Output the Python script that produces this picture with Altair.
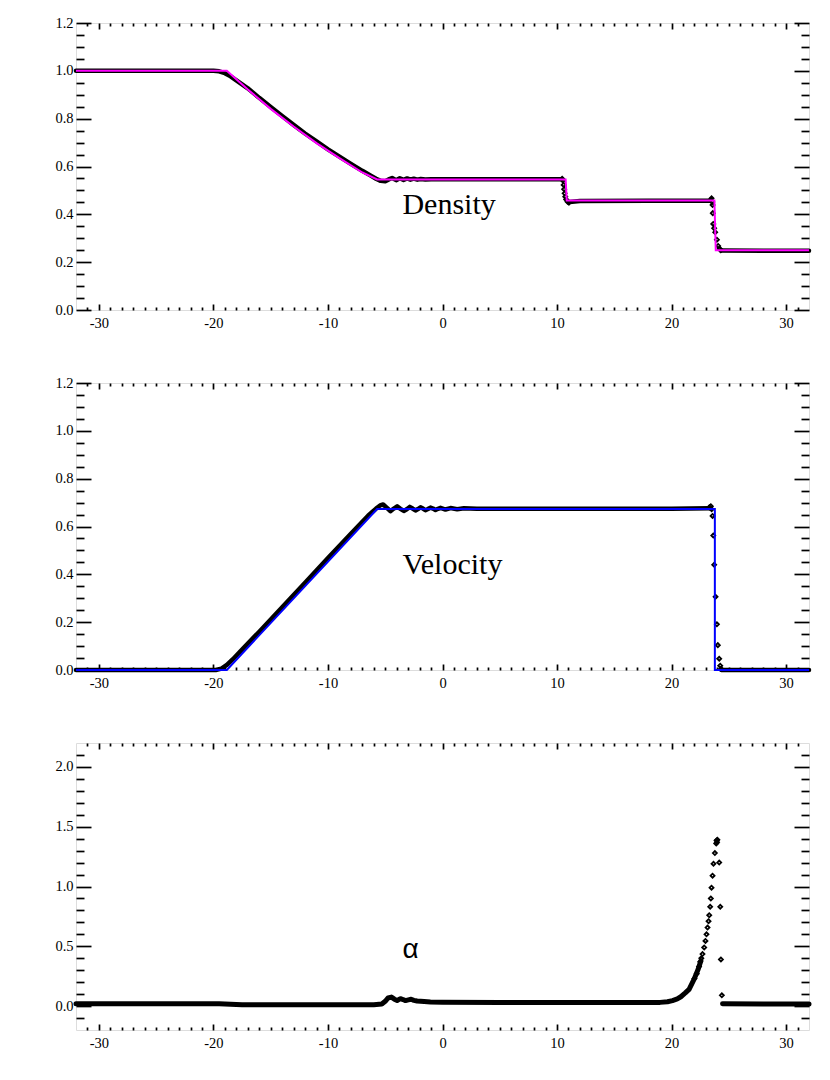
import altair as alt
import pandas as pd

# ---------------- data ----------------
x_major = [-30, -20, -10, 0, 10, 20, 30]
x_minor = [v for v in range(-31, 32) if v % 10 != 0]

# Density panel
dens_exact_x = [-32, -18.83, -17.0, -15.0, -13.0, -11.0, -9.0, -7.0, -5.71, 10.75, 10.85, 23.74, 23.86, 32]
dens_exact_y = [1.0, 1.0, 0.922, 0.841, 0.767, 0.698, 0.635, 0.575, 0.546, 0.546, 0.458, 0.458, 0.25, 0.25]

dens_band_x = [-32, -20.0, -19.5, -19.0, -18.5, -18.0, -17.0, -16.0, -15.0, -14.0, -13.0, -12.0, -11.0,
               -10.0, -9.0, -8.0, -7.0, -6.3, -5.8, -5.4, -5.0, -4.7, -4.4, -4.05, -3.73, -3.4, -3.09,
               -2.8, -2.51, -2.2, -1.9, -1.5, -1.0, 0.0, 5.0, 10.4,
               11.1, 12.0, 18.0, 23.3, 23.45,
               24.3, 28.0, 32]
dens_band_y = [1.0, 1.0, 0.998, 0.99, 0.977, 0.96, 0.927, 0.887, 0.849, 0.811, 0.774, 0.738, 0.705,
               0.672, 0.641, 0.611, 0.582, 0.563, 0.549, 0.54, 0.538, 0.546, 0.552, 0.543, 0.551, 0.544, 0.55,
               0.545, 0.549, 0.545, 0.548, 0.546, 0.547, 0.547, 0.547, 0.547,
               0.452, 0.456, 0.457, 0.457, 0.463,
               0.249, 0.248, 0.248]
dens_band_seg = [1] * 36 + [2] * 5 + [3] * 3

dens_pts_x = [10.45, 10.52, 10.58, 10.62, 10.66, 10.72, 10.8, 10.92, 11.04,
              23.49, 23.55, 23.58, 23.6, 23.64, 23.72, 23.81, 23.96, 24.07, 24.2, 24.3]
dens_pts_y = [0.549, 0.541, 0.523, 0.505, 0.488, 0.474, 0.462, 0.453, 0.449,
              0.467, 0.452, 0.439, 0.405, 0.36, 0.342, 0.325, 0.294, 0.268, 0.256, 0.25]

# Velocity panel
vel_exact_x = [-32, -18.83, -5.71, 23.78, 23.78, 32]
vel_exact_y = [0.0, 0.0, 0.673, 0.673, 0.0, 0.0]

vel_band_x = [-32, -19.8, -19.3, -18.8, -18.3, -17.5, -16.0, -14.0, -12.0, -10.0, -8.0, -6.5, -5.8,
              -5.45, -5.18, -4.85, -4.55, -4.25, -3.96, -3.67, -3.38, -3.12, -2.86, -2.61, -2.36,
              -2.14, -1.92, -1.7, -1.49, -1.27, -1.05, -0.83, -0.61, -0.39, -0.17, 0.26, 0.7, 1.28,
              1.87, 3.0, 10.0, 20.0, 23.3,
              24.35, 32]
vel_band_y = [0.0, 0.0, 0.006, 0.022, 0.045, 0.085, 0.16, 0.262, 0.365, 0.468, 0.57, 0.645, 0.675,
              0.688, 0.692, 0.678, 0.664, 0.675, 0.684, 0.674, 0.665, 0.672, 0.682, 0.675, 0.667,
              0.673, 0.68, 0.675, 0.668, 0.673, 0.679, 0.675, 0.669, 0.674, 0.678, 0.671, 0.677, 0.672,
              0.676, 0.674, 0.674, 0.674, 0.676,
              0.0, 0.0]
vel_band_seg = [1] * 43 + [2] * 2

vel_pts_x = [23.3, 23.43, 23.5, 23.58, 23.64, 23.72, 23.84, 23.96, 24.04, 24.16, 24.25, 24.32]
vel_pts_y = [0.68, 0.685, 0.672, 0.644, 0.562, 0.44, 0.306, 0.191, 0.104, 0.047, 0.018, 0.005]

# Alpha panel
alpha_band_x = [-32, -19.5, -18.5, -17.5, -6.0, -5.3, -5.0, -4.75, -4.46, -4.2, -3.96, -3.67, -3.45,
                -3.23, -2.98, -2.74, -2.5, -2.22, -1.6, -1.05, 0.0, 5.0, 10.0, 15.0, 19.0, 19.64,
                20.08, 20.5, 20.81, 21.2, 21.53, 21.97, 22.33, 22.56,
                24.45, 28.0, 32]
alpha_band_y = [0.02, 0.02, 0.016, 0.011, 0.011, 0.017, 0.04, 0.068, 0.075, 0.058, 0.047, 0.062, 0.055,
                0.046, 0.052, 0.057, 0.048, 0.042, 0.038, 0.035, 0.033, 0.031, 0.03, 0.03, 0.031, 0.036,
                0.046, 0.06, 0.078, 0.11, 0.14, 0.225, 0.31, 0.38,
                0.02, 0.018, 0.018]
alpha_band_seg = [1] * 34 + [2] * 3

alpha_pts_x = [22.0, 22.2, 22.4, 22.5, 22.6, 22.7, 22.85, 22.96, 23.05, 23.14, 23.23, 23.29, 23.37,
               23.43, 23.49, 23.58, 23.66, 23.78, 23.9, 23.93, 23.97, 24.0, 24.16, 24.25, 24.31, 24.39]
alpha_pts_y = [0.23, 0.27, 0.33, 0.37, 0.40, 0.435, 0.49, 0.545, 0.60, 0.657, 0.71, 0.76, 0.83,
               0.90, 0.99, 1.09, 1.19, 1.28, 1.36, 1.385, 1.37, 1.39, 1.20, 0.83, 0.39, 0.09]

labels = ["Density", "Velocity", "\u03b1"]
label_x = [-3.5, -3.5, -3.5]
label_y = [0.40, 0.40, 0.40]

y_major_12 = [0.0, 0.2, 0.4, 0.6, 0.8, 1.0, 1.2]
y_minor_12 = [round(0.05 * i, 2) for i in range(1, 24) if i % 4 != 0]
y_major_22 = [0.0, 0.5, 1.0, 1.5, 2.0]
y_minor_22 = [round(-0.2 + 0.1 * i, 1) for i in range(1, 24) if (i - 2) % 5 != 0]

# ---------------- styling helpers ----------------
SERIF = "Liberation Serif"
LABEL_SIZE = 14.5
X_SCALE = alt.Scale(domain=[-32, 32], nice=False, zero=False)
X_TICK_MAJ, X_TICK_MIN = 6, 3
Y_TICK_MAJ, Y_TICK_MIN = 15, 8


def ax(orient, values, size, show_labels=False, fmt=None, label_expr=None, pad=3):
    kw = dict(orient=orient, values=values, tickSize=size, offset=-size, domain=False, grid=False,
              ticks=True, tickColor="black", tickWidth=1.7, labels=show_labels, title=None)
    if show_labels:
        kw.update(labelFont=SERIF, labelFontSize=LABEL_SIZE, labelColor="black", labelPadding=pad,
                  labelFlush=False, labelOverlap=False)
        if fmt:
            kw["format"] = fmt
        if label_expr:
            kw["labelExpr"] = label_expr
    return alt.Axis(**kw)


def panel(bx, by, bseg, px, py, ex, ey, ecolor, ydom, ymaj, ymin, idx, band_w, tfont, tsize):
    ys = alt.Scale(domain=ydom, nice=False, zero=False)
    band = pd.DataFrame({"x": bx, "y": by, "seg": bseg, "i": list(range(len(bx)))})
    pts = pd.DataFrame({"x": px, "y": py})

    def enc(xa, ya):
        return dict(x=alt.X("x:Q", scale=X_SCALE, axis=xa),
                    y=alt.Y("y:Q", scale=ys, axis=ya),
                    detail="seg:N", order="i:Q")

    layers = [
        alt.Chart(band).mark_line(color="black", strokeWidth=band_w, strokeJoin="round",
                                  strokeCap="round").encode(
            **enc(ax("bottom", x_major, X_TICK_MAJ, True, label_expr="'' + datum.value", pad=6),
                  ax("left", ymaj, Y_TICK_MAJ, True, fmt=".1f", pad=3))),
        alt.Chart(band).mark_line(strokeOpacity=0).encode(
            **enc(ax("bottom", x_minor, X_TICK_MIN), ax("left", ymin, Y_TICK_MIN))),
        alt.Chart(band).mark_line(strokeOpacity=0).encode(
            **enc(ax("top", x_major, X_TICK_MAJ), ax("right", ymaj, Y_TICK_MAJ))),
        alt.Chart(band).mark_line(strokeOpacity=0).encode(
            **enc(ax("top", x_minor, X_TICK_MIN), ax("right", ymin, Y_TICK_MIN))),
        alt.Chart(pts).mark_point(shape="diamond", filled=False, color="black", size=16,
                                  strokeWidth=1.8, opacity=1).encode(
            x=alt.X("x:Q", scale=X_SCALE, axis=None), y=alt.Y("y:Q", scale=ys, axis=None)),
    ]
    if ex is not None:
        ex_df = pd.DataFrame({"x": ex, "y": ey, "i": list(range(len(ex)))})
        layers.append(alt.Chart(ex_df).mark_line(color=ecolor, strokeWidth=2).encode(
            x=alt.X("x:Q", scale=X_SCALE, axis=None), y=alt.Y("y:Q", scale=ys, axis=None),
            order="i:Q"))
    layers.append(alt.Chart(pd.DataFrame({"t": [labels[idx]]})).mark_text(
        font=tfont, fontSize=tsize, align="left", baseline="alphabetic", color="black").encode(
        x=alt.X("lx:Q", scale=X_SCALE, axis=None),
        y=alt.Y("ly:Q", scale=ys, axis=None), text="t:N").transform_calculate(
        lx=str(label_x[idx]), ly=str(label_y[idx])))
    return alt.layer(*layers).resolve_axis(x="independent", y="independent").properties(
        width=733, height=287)


p1 = panel(dens_band_x, dens_band_y, dens_band_seg, dens_pts_x, dens_pts_y, dens_exact_x, dens_exact_y,
           "#ff00ff", [0, 1.2], y_major_12, y_minor_12, 0, 4.5, SERIF, 30)
p2 = panel(vel_band_x, vel_band_y, vel_band_seg, vel_pts_x, vel_pts_y, vel_exact_x, vel_exact_y,
           "#0000ff", [0, 1.2], y_major_12, y_minor_12, 1, 4.5, SERIF, 30)
p3 = panel(alpha_band_x, alpha_band_y, alpha_band_seg, alpha_pts_x, alpha_pts_y, None, None,
           None, [-0.2, 2.2], y_major_22, y_minor_22, 2, 5, "Liberation Sans", 28)

chart = alt.vconcat(p1, p2, p3, spacing=73, bounds="flush").properties(
    padding={"left": 46, "top": 6, "right": 5, "bottom": 5}
).configure_view(stroke="black", strokeWidth=2).configure_axis(
    labelFont=SERIF, labelFontSize=LABEL_SIZE, labelColor="black", tickColor="black", tickWidth=1.7
).configure(background="white")

chart.save("out.html", embed_options={"renderer": "svg", "actions": False})
